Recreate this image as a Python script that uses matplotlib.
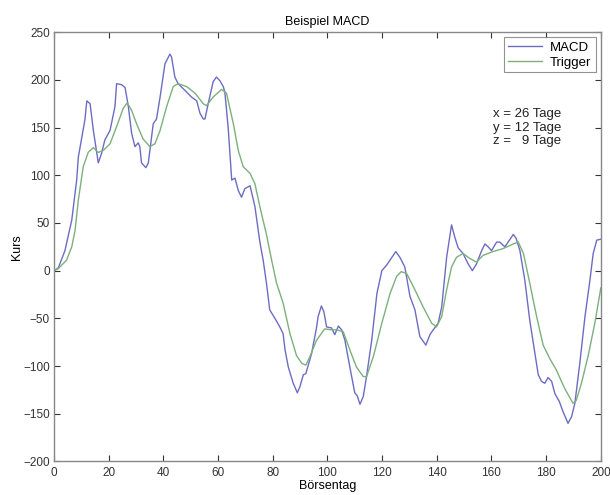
import matplotlib
matplotlib.use('Agg')
import matplotlib.pyplot as plt

plt.rcParams['font.family'] = ['Liberation Sans', 'DejaVu Sans']

# MACD line (Börsentag, Kurs)
macd_x = [0, 1.6, 4, 6.5, 8.3, 8.9, 11.3, 12, 13.2, 14.4, 16.2, 17.4, 18.6, 20.5,
          22.3, 22.9, 24.7, 26, 27.2, 28.4, 29.6, 30.8, 31.4, 32, 33.6, 34.5, 36.3,
          37.5, 38.8, 40.6, 42.4, 43, 44.2, 45.4, 47.9, 50.3, 52.2, 53.4, 54.6, 55.2,
          56.4, 58.2, 59.4, 60.7, 61.9, 62.5, 63.7, 65, 66.2, 67.4, 68.6, 69.8, 71.7,
          73.5, 75.3, 76.5, 77.7, 78.9, 80.8, 82.6, 83.8, 84.5, 85.7, 87.5, 89, 89.9,
          91.2, 92.1, 93, 94.2, 96, 96.6, 97.8, 98.7, 99.7, 101.5, 102.7, 104, 105.2,
          106.4, 108.2, 110, 110.9, 111.9, 113.1, 114.3, 116.2, 118.1, 119.9, 121.7,
          123.6, 125, 126.5, 128.3, 130.2, 132, 133.8, 135, 136, 137.5, 138.7, 140.5,
          141.8, 143.6, 145.4, 146.6, 147.8, 149.6, 151.5, 153, 154.5, 156.4, 157.6,
          158.8, 160, 161.9, 163, 164.9, 166.1, 168, 169, 170.4, 172.2, 174, 175.9,
          177.1, 178.3, 179.5, 180.7, 182, 183.2, 184.8, 186.2, 188, 189.3, 190.5,
          192.3, 194.2, 196, 197.2, 198.5, 200]
macd_y = [0, 3, 21, 53, 95, 119, 158, 178, 175, 147, 113, 123, 137, 147,
          172, 196, 195, 192, 172, 144, 130, 134, 130, 113, 108, 113, 154,
          159, 182, 217, 227, 224, 203, 196, 189, 182, 178, 165, 159, 159,
          175, 198, 203, 199, 193, 187, 150, 95, 97, 84, 77, 86, 89,
          67, 30, 11, -13, -41, -50, -59, -66, -83, -101, -118, -128, -122,
          -109, -108, -99, -87, -60, -48, -37, -43, -59, -60, -67, -58, -62,
          -73, -101, -128, -131, -140, -132, -111, -73, -24, 0, 6,
          14, 20, 14, 4, -27, -41, -69, -74, -78, -67, -62, -55,
          -38, 14, 48, 35, 24, 18, 7, 0, 7, 21, 28,
          25, 21, 30, 30, 25, 30, 38, 34, 21, -10, -52, -87,
          -109, -116, -118, -112, -116, -129, -137, -148, -160, -153, -139,
          -97, -48, -10, 18, 32, 33]

# Trigger line
trig_x = [0, 1.5, 4.6, 6.5, 7.7, 8.9, 10.7, 12.5, 14.4, 16.2, 18, 20.5, 22.9, 25.3,
          26.8, 28.4, 30.2, 32.6, 35.1, 36.9, 38.8, 41.2, 43.6, 45.4, 48.5, 51.6,
          54.6, 55.8, 58.2, 61.3, 63.1, 65.6, 67.4, 69.2, 71.7, 73.5, 75.3, 77.7,
          79.6, 81.4, 83.8, 86.3, 88.7, 90.6, 92.1, 93.6, 96, 99, 101.5, 103.4, 105.8,
          108.2, 110.6, 113.1, 114.3, 116.8, 119.9, 122.9, 125.3, 127, 129, 132, 135,
          138.1, 139.9, 141.8, 143.6, 145.4, 147.2, 149.6, 152, 154.5, 156.9, 160.5,
          164.1, 168, 169.8, 171.7, 174, 176.5, 178.9, 181.3, 183.7, 186.7, 189.8,
          191, 192.9, 195.3, 197.8, 200]
trig_y = [0, 2, 11, 25, 42, 74, 109, 124, 129, 124, 126, 133, 151, 170,
          176, 168, 154, 138, 130, 133, 147, 172, 193, 196, 193, 186,
          175, 173, 182, 190, 186, 154, 126, 109, 102, 91, 67, 38,
          11, -13, -34, -66, -89, -97, -99, -90, -73, -61, -62, -62, -64,
          -83, -101, -111, -111, -90, -55, -24, -6, -1, -3, -20, -38,
          -55, -59, -48, -20, 4, 14, 18, 13, 9, 16, 20,
          23, 28, 30, 18, -13, -48, -78, -92, -104, -123, -139,
          -136, -118, -90, -55, -18]

x_ticks = [0, 20, 40, 60, 80, 100, 120, 140, 160, 180, 200]
y_ticks = [-200, -150, -100, -50, 0, 50, 100, 150, 200, 250]

fig = plt.figure(figsize=(6.1, 4.95), dpi=100)
ax = fig.add_axes([0.0885, 0.0677, 0.8965, 0.8673])

ax.plot(macd_x, macd_y, color='#6c6cc4', lw=1.0, label='MACD')
ax.plot(trig_x, trig_y, color='#7cb07c', lw=1.0, label='Trigger')

ax.set_xlim(0, 200)
ax.set_ylim(-200, 250)
ax.set_xticks(x_ticks)
ax.set_yticks(y_ticks)
ax.tick_params(direction='in', top=True, right=True, length=4, width=0.8,
               labelsize=8.5, colors='#333333', pad=3)
ax.tick_params(axis='x', pad=4)
for s in ax.spines.values():
    s.set_color('#888888')
    s.set_linewidth(1.0)

ax.set_title('Beispiel MACD', fontsize=9, pad=5)
ax.set_xlabel('Börsentag', fontsize=9, labelpad=1)
ax.set_ylabel('Kurs', fontsize=9, labelpad=0)

leg = ax.legend(loc='upper right', fontsize=9.5, frameon=True, fancybox=False,
                borderaxespad=0.4, handlelength=2.6, borderpad=0.3,
                labelspacing=0.2, handletextpad=0.6)
leg.get_frame().set_edgecolor('#777777')
leg.get_frame().set_linewidth(0.8)

ax.text(160.5, 150, 'x = 26 Tage\ny = 12 Tage\nz =   9 Tage', fontsize=9.5,
        va='center', ha='left', linespacing=1.15, color='#222222')

fig.savefig('out.png', dpi=100)
